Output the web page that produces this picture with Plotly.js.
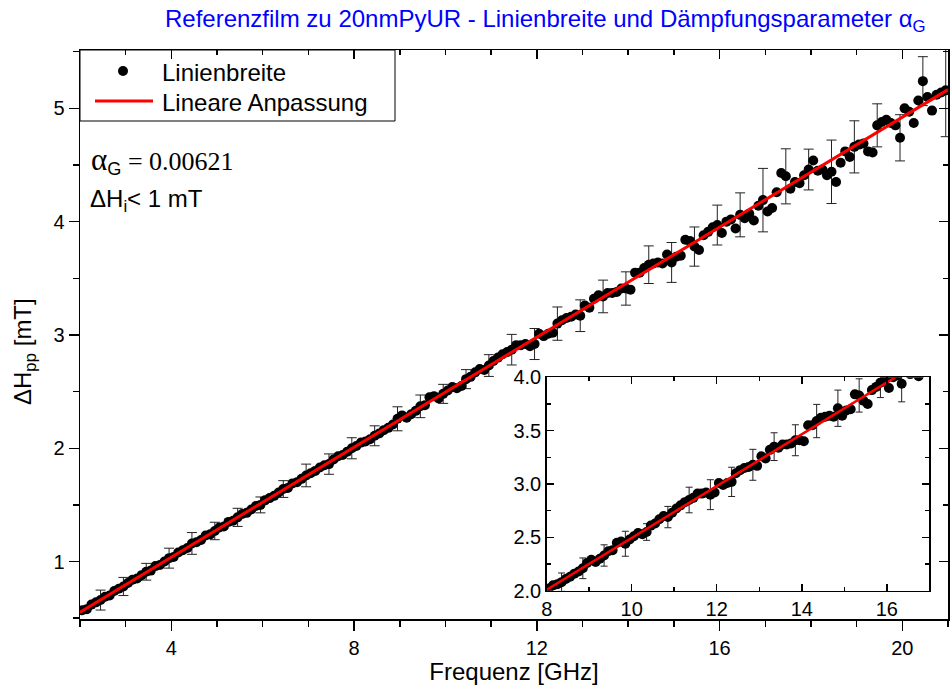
<!DOCTYPE html>
<html><head><meta charset="utf-8">
<script src="https://cdn.plot.ly/plotly-3.0.1.min.js"></script>
<style>html,body{margin:0;padding:0;background:#fff}#chart{width:950px;height:686px}</style>
</head><body><div id="chart"></div>
<script>
// Frequencies (GHz)
const freq = [
 2.05,2.15,2.25,2.35,2.45,2.55,2.65,2.75,2.85,2.95,
 3.05,3.15,3.25,3.35,3.45,3.55,3.65,3.75,3.85,3.95,
 4.05,4.15,4.25,4.35,4.45,4.55,4.65,4.75,4.85,4.95,
 5.05,5.15,5.25,5.35,5.45,5.55,5.65,5.75,5.85,5.95,
 6.05,6.15,6.25,6.35,6.45,6.55,6.65,6.75,6.85,6.95,
 7.05,7.15,7.25,7.35,7.45,7.55,7.65,7.75,7.85,7.95,
 8.05,8.15,8.25,8.35,8.45,8.55,8.65,8.75,8.85,8.95,
 9.05,9.15,9.25,9.35,9.45,9.55,9.65,9.75,9.85,9.95,
 10.05,10.15,10.25,10.35,10.45,10.55,10.65,10.75,10.85,10.95,
 11.05,11.15,11.25,11.35,11.45,11.55,11.65,11.75,11.85,11.95,
 12.05,12.15,12.25,12.35,12.45,12.55,12.65,12.75,12.85,12.95,
 13.05,13.15,13.25,13.35,13.45,13.55,13.65,13.75,13.85,13.95,
 14.05,14.15,14.25,14.35,14.45,14.55,14.65,14.75,14.85,14.95,
 15.05,15.15,15.25,15.35,15.45,15.55,15.65,15.75,15.85,15.95,
 16.05,16.15,16.25,16.35,16.45,16.55,16.65,16.75,16.85,16.95,
 17.05,17.15,17.25,17.35,17.45,17.55,17.65,17.75,17.85,17.95,
 18.05,18.15,18.25,18.35,18.45,18.55,18.65,18.75,18.85,18.95,
 19.05,19.15,19.25,19.35,19.45,19.55,19.65,19.75,19.85,19.95,
 20.05,20.15,20.25,20.35,20.45,20.55,20.65,20.75,20.85,20.95
];
// Linienbreite ΔHpp (mT)
const linewidth = [
 0.57,0.58,0.62,0.64,0.66,0.69,0.70,0.74,0.76,0.78,
 0.81,0.84,0.85,0.88,0.91,0.92,0.96,0.97,1.00,1.03,
 1.04,1.08,1.10,1.12,1.16,1.17,1.19,1.23,1.24,1.27,
 1.30,1.31,1.35,1.36,1.39,1.42,1.43,1.46,1.49,1.50,
 1.54,1.56,1.58,1.61,1.64,1.65,1.69,1.70,1.73,1.76,
 1.78,1.80,1.83,1.85,1.86,1.90,1.93,1.94,1.97,2.00,
 2.02,2.05,2.06,2.08,2.11,2.13,2.16,2.18,2.21,2.26,
 2.29,2.27,2.30,2.33,2.37,2.38,2.45,2.46,2.44,2.48,
 2.51,2.54,2.53,2.55,2.61,2.63,2.67,2.70,2.69,2.73,
 2.77,2.80,2.83,2.85,2.87,2.91,2.91,2.92,2.90,2.92,
 3.01,2.99,3.01,3.02,3.10,3.13,3.15,3.16,3.18,3.17,
 3.26,3.24,3.32,3.35,3.34,3.37,3.37,3.38,3.41,3.41,
 3.40,3.55,3.55,3.59,3.62,3.63,3.64,3.63,3.71,3.64,
 3.69,3.70,3.84,3.83,3.78,3.75,3.88,3.91,3.95,3.97,
 3.90,4.00,4.02,3.94,4.06,4.03,4.07,4.01,4.14,4.19,
 4.09,4.12,4.26,4.43,4.40,4.29,4.35,4.34,4.41,4.46,
 4.54,4.45,4.46,4.41,4.44,4.35,4.52,4.62,4.57,4.66,
 4.68,4.69,4.62,4.61,4.85,4.88,4.90,4.87,4.85,4.74,
 5.00,4.97,4.87,5.07,5.24,5.10,4.98,5.12,5.14,5.16
];
// Error bars shown in main plot
const mainErrFreq = [2.45,2.95,3.45,3.95,4.45,4.95,5.45,5.95,6.45,6.95,7.45,7.95,8.45,8.95,9.45,9.95,10.45,10.95,11.45,11.95,12.45,12.95,13.45,13.95,14.45,14.95,15.45,15.95,16.45,16.95,17.45,17.95,18.45,18.95,19.45,19.95,20.45,20.95];
const mainErrVal = [0.088,0.080,0.074,0.088,0.096,0.077,0.080,0.070,0.074,0.100,0.090,0.093,0.088,0.106,0.100,0.084,0.084,0.096,0.135,0.137,0.147,0.140,0.144,0.147,0.166,0.176,0.173,0.176,0.194,0.280,0.243,0.180,0.280,0.230,0.190,0.204,0.216,0.410];
// Error bars shown in inset
const insetErrFreq = [8.35,8.85,9.35,9.85,10.35,10.85,11.35,11.85,12.35,12.85,13.35,13.85,14.35,14.85,15.35,15.85,16.35];
const insetErrVal = [0.086,0.097,0.100,0.117,0.078,0.100,0.120,0.140,0.137,0.145,0.130,0.145,0.156,0.170,0.156,0.140,0.170];
// Lineare Anpassung (fit line end points)
const fitFreq = [2.0, 21.0];
const fitWidth = [0.553, 5.165];

const xTickVals = [4, 8, 12, 16, 20];
const insetXTicks = [8, 10, 12, 14, 16];

function buildErr(fr, vals) {
  return freq.map(f => {
    const k = fr.findIndex(v => Math.abs(v - f) < 1e-6);
    return k >= 0 ? vals[k] : NaN;
  });
}

const FONT = 'Liberation Sans, Arial, sans-serif';
const SERIF = 'Liberation Serif, Times New Roman, serif';

// plot area: x 80..948, y 50..619
const PL = 80, PR = 948, PT = 50, PB = 619;
const px = v => (v - PL) / (PR - PL);
const py = v => (PB - v) / (PB - PT);

const traces = [
  {x: freq, y: linewidth, type: 'scatter', mode: 'markers', xaxis: 'x', yaxis: 'y',
   marker: {size: 10, color: '#000'},
   error_y: {type: 'data', array: buildErr(mainErrFreq, mainErrVal), visible: true, color: '#222', thickness: 1, width: 5},
   showlegend: false, hoverinfo: 'x+y'},
  {x: fitFreq, y: fitWidth, type: 'scatter', mode: 'lines', xaxis: 'x', yaxis: 'y',
   line: {color: '#ff0000', width: 3}, showlegend: false},
  {x: [], y: [], type: 'scatter', mode: 'markers', xaxis: 'x2', yaxis: 'y2', showlegend: false},
  {x: freq, y: linewidth, type: 'scatter', mode: 'markers', xaxis: 'x3', yaxis: 'y3',
   marker: {size: 10, color: '#000'},
   error_y: {type: 'data', array: buildErr(insetErrFreq, insetErrVal), visible: true, color: '#222', thickness: 1, width: 3.5},
   showlegend: false},
  {x: fitFreq, y: fitWidth, type: 'scatter', mode: 'lines', xaxis: 'x3', yaxis: 'y3',
   line: {color: '#ff0000', width: 2.5}, showlegend: false}
];

const axBase = {showgrid: false, zeroline: false, showline: true, linecolor: '#000', linewidth: 1.5,
  tickcolor: '#000', tickwidth: 1.5, tickfont: {family: FONT, size: 20, color: '#000'}};

const layout = {
  width: 950, height: 686,
  margin: {l: PL, r: 950 - PR, t: PT, b: 686 - PB},
  paper_bgcolor: '#fff', plot_bgcolor: '#fff',
  font: {family: FONT, color: '#000'},
  showlegend: false,
  title: {text: 'Referenzfilm zu 20nmPyUR - Linienbreite und Dämpfungsparameter α<sub>G</sub>',
    font: {family: FONT, size: 24, color: '#0000ff'},
    x: 0.574, xanchor: 'center', xref: 'container', y: 1 - 19/686, yanchor: 'middle', yref: 'container'},
  xaxis: Object.assign({}, axBase, {range: [2, 21], tickvals: xTickVals, ticks: 'outside', ticklen: 10,
    minor: {dtick: 1, tick0: 0, ticks: 'outside', ticklen: 6, tickcolor: '#000', tickwidth: 1.5},
    title: {text: 'Frequenz [GHz]', font: {family: FONT, size: 24, color: '#000'}, standoff: 4}, anchor: 'y'}),
  yaxis: Object.assign({}, axBase, {range: [0.493, 5.515], dtick: 1, tick0: 0, ticks: 'outside', ticklen: 10,
    minor: {dtick: 0.5, tick0: 0, ticks: 'outside', ticklen: 6, tickcolor: '#000', tickwidth: 1.5}, anchor: 'x'}),
  xaxis2: Object.assign({}, axBase, {range: [2, 21], overlaying: 'x', side: 'top', anchor: 'y2', tickvals: xTickVals,
    ticks: 'inside', ticklen: 9, showticklabels: false,
    minor: {dtick: 1, tick0: 0, ticks: 'inside', ticklen: 5, tickcolor: '#000', tickwidth: 1.5}}),
  yaxis2: Object.assign({}, axBase, {range: [0.493, 5.515], overlaying: 'y', side: 'right', anchor: 'x2', dtick: 1, tick0: 0,
    ticks: 'inside', ticklen: 9, showticklabels: false,
    minor: {dtick: 0.5, tick0: 0, ticks: 'inside', ticklen: 5, tickcolor: '#000', tickwidth: 1.5}}),
  xaxis3: Object.assign({}, axBase, {domain: [px(546.7), px(929.3)], anchor: 'y3', range: [8, 17],
    tickvals: insetXTicks, ticks: 'inside', ticklen: 7, mirror: 'allticks',
    minor: {dtick: 1, tick0: 0, ticks: 'inside', ticklen: 4, tickcolor: '#000', tickwidth: 1.5}}),
  yaxis3: Object.assign({}, axBase, {domain: [py(590.7), py(377.3)], anchor: 'x3', range: [2, 4],
    dtick: 0.5, tick0: 0, tickformat: '.1f', ticks: 'inside', ticklen: 7, mirror: 'allticks',
    minor: {dtick: 0.25, tick0: 0, ticks: 'inside', ticklen: 4, tickcolor: '#000', tickwidth: 1.5}}),
  shapes: [
    {type: 'rect', xref: 'paper', yref: 'paper', x0: 0, x1: px(395), y0: py(121), y1: 1,
     line: {color: '#000', width: 1}, fillcolor: 'rgba(255,255,255,0)'},
    {type: 'circle', xref: 'paper', yref: 'paper', x0: px(118), x1: px(128), y0: py(76), y1: py(66),
     line: {color: '#000', width: 0}, fillcolor: '#000'},
    {type: 'line', xref: 'paper', yref: 'paper', x0: px(95), x1: px(153), y0: py(101), y1: py(101),
     line: {color: '#ff0000', width: 3}}
  ],
  annotations: [
    {text: 'Linienbreite', xref: 'paper', yref: 'paper', x: px(160), y: py(72), xanchor: 'left', yanchor: 'middle',
     showarrow: false, font: {family: FONT, size: 24, color: '#000'}},
    {text: 'Lineare Anpassung', xref: 'paper', yref: 'paper', x: px(160), y: py(102), xanchor: 'left', yanchor: 'middle',
     showarrow: false, font: {family: FONT, size: 24, color: '#000'}},
    {text: "<span style=\"font-size:31px\">α</span><sub><span style=\"font-family:'Liberation Sans'\">G</span></sub> = 0.00621", xref: 'paper', yref: 'paper',
     x: px(89), y: py(160), xanchor: 'left', yanchor: 'middle', showarrow: false,
     font: {family: SERIF, size: 26, color: '#000'}},
    {text: 'ΔH<sub>i</sub>< 1 mT', xref: 'paper', yref: 'paper', x: px(88), y: py(201), xanchor: 'left', yanchor: 'middle',
     showarrow: false, font: {family: FONT, size: 24, color: '#000'}},
    {text: 'ΔH<sub>pp</sub> [mT]', xref: 'paper', yref: 'paper', x: px(25), y: py(352), xanchor: 'center', yanchor: 'middle',
     textangle: -90, showarrow: false, font: {family: FONT, size: 24, color: '#000'}}
  ]
};

Plotly.newPlot('chart', traces, layout, {displayModeBar: false, staticPlot: true});
</script>
</body></html>
